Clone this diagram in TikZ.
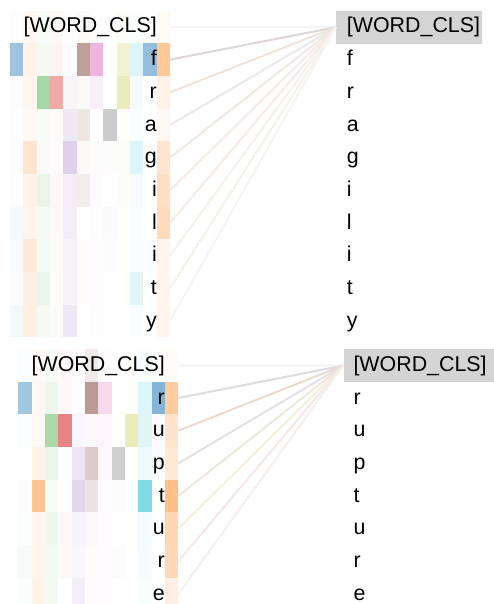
\documentclass[tikz,border=0pt]{standalone}
\usepackage{fontspec}
\setmainfont{Liberation Sans}
% head colours (tab10, cycled)
\definecolor{hd1}{HTML}{1F77B4}
\definecolor{hd2}{HTML}{FF7F0E}
\definecolor{hd3}{HTML}{2CA02C}
\definecolor{hd4}{HTML}{D62728}
\definecolor{hd5}{HTML}{9467BD}
\definecolor{hd6}{HTML}{8C564B}
\definecolor{hd7}{HTML}{E377C2}
\definecolor{hd8}{HTML}{7F7F7F}
\definecolor{hd9}{HTML}{BCBD22}
\definecolor{hd10}{HTML}{17BECF}
\definecolor{hd11}{HTML}{1F77B4}
\definecolor{hd12}{HTML}{FF7F0E}
\definecolor{clsgray}{HTML}{D4D4D4}
% link colours
\definecolor{lkA0}{HTML}{F8F4F4}
\definecolor{lkA1}{HTML}{DCD5DA}
\definecolor{lkA2}{HTML}{EFE4DB}
\definecolor{lkA3}{HTML}{EBE7EB}
\definecolor{lkA4}{HTML}{F2E8E2}
\definecolor{lkA5}{HTML}{F7EAE7}
\definecolor{lkA6}{HTML}{F8EAE6}
\definecolor{lkA7}{HTML}{F5F2EC}
\definecolor{lkA8}{HTML}{F4F2EA}
\definecolor{lkA9}{HTML}{F4F4F2}
\definecolor{lkB0}{HTML}{F6F3F3}
\definecolor{lkB1}{HTML}{DEDBDF}
\definecolor{lkB2}{HTML}{E9DCCF}
\definecolor{lkB3}{HTML}{E5E0E4}
\definecolor{lkB4}{HTML}{EDE7DC}
\definecolor{lkB5}{HTML}{F2EFDD}
\definecolor{lkB6}{HTML}{F6E7E6}
\definecolor{lkB7}{HTML}{F5F0EE}
\tikzset{
  cell/.style={draw=none, inner sep=0pt, outer sep=0pt, minimum width=13.33pt, minimum height=32.67pt, anchor=north west},
  tok/.style={inner sep=0pt, font=\fontsize{21.4}{25.7}\selectfont},
  clsbox/.style={tok, fill=clsgray, anchor=north west, text width=#1, align=left, minimum height=32.67pt},
  link/.style={line width=2pt}
}
\begin{document}
\begin{tikzpicture}[x=1pt, y=-1pt]
\useasboundingbox (0,0) rectangle (494,604);
% fragility
\foreach \r/\ws in {0/{.01,.05,.03,.04,.01,.03,.01,0,.03,.01,0,.04},
                    1/{.44,.1,.06,.05,.03,.57,.54,0,.2,.15,.48,.43},
                    2/{.02,.07,.42,.4,.07,.03,.12,0,.3,.04,0,.1},
                    3/{.01,.05,.03,.02,.15,.15,0,.4,.02,.03,0,.06},
                    4/{.02,.2,.04,.02,.3,.03,.03,.02,.03,.15,0,.2},
                    5/{.01,.1,.1,.03,.12,.1,.04,0,.03,.04,0,.25},
                    6/{.04,.08,.05,.03,.12,0,.02,.04,.02,.03,0,.28},
                    7/{.03,.17,.05,.02,.08,.02,.02,.02,.02,.03,.02,.08},
                    8/{.02,.12,.1,.02,.08,.02,.02,0,.02,.12,0,.08},
                    9/{.05,.12,.05,.02,.15,0,.02,0,0,.03,0,.08}}{
  \foreach \w [count=\c] in \ws {
    \node[cell, fill=hd\c, fill opacity=\w] (a\r-\c) at ({10+13.33*(\c-1)}, {10.67+32.67*\r}) {};
  }
}
\node[tok, anchor=base east] (ka0) at (157, 33) {[WORD\_CLS]};
\foreach \t [count=\r] in {f,r,a,g,i,l,i,t,y}{
  \node[tok, anchor=base east] (ka\r) at (157, {33+32.67*\r}) {\t};
  \node[tok, anchor=base west] (qa\r) at (346.7, {33+32.67*\r}) {\t};
}
\node[clsbox=146pt] (clsA) at (336, 10.67) {\hspace*{10.7pt}[WORD\_CLS]};
\foreach \r in {0,...,9}{
  \draw[link, lkA\r] (a\r-12.east) -- (clsA.west);
}
% rupture
\foreach \r/\ws in {0/{.01,.04,.04,.03,.01,.12,.02,0,.01,.02,0,.03},
                    1/{.42,.06,.08,.03,.02,.6,.29,0,.02,.15,.55,.4},
                    2/{.01,.05,.4,.57,.05,.04,.06,0,.3,.14,.02,.22},
                    3/{0,.1,.1,.01,.17,.3,.05,.37,.02,.08,.02,.18},
                    4/{.02,.45,.03,0,.27,.17,.02,.02,0,.55,0,.5},
                    5/{.01,.08,.08,.04,.08,.04,.02,0,.02,.05,0,.32},
                    6/{.04,.08,.06,.03,.05,.02,.02,.02,0,.04,0,.3},
                    7/{.02,.1,.06,0,.12,.02,.02,0,0,.03,0,.12}}{
  \foreach \w [count=\c] in \ws {
    \node[cell, fill=hd\c, fill opacity=\w] (b\r-\c) at ({18.33+13.33*(\c-1)}, {349+32.67*\r}) {};
  }
}
\node[tok, anchor=base east] (kb0) at (165, 371.5) {[WORD\_CLS]};
\foreach \t [count=\r] in {r,u,p,t,u,r,e}{
  \node[tok, anchor=base east] (kb\r) at (165, {371.5+32.67*\r}) {\t};
  \node[tok, anchor=base west] (qb\r) at (353.3, {371.5+32.67*\r}) {\t};
}
\node[clsbox=150pt] (clsB) at (343.3, 349) {\hspace*{10pt}[WORD\_CLS]};
\foreach \r in {0,...,7}{
  \draw[link, lkB\r] (b\r-12.east) -- (clsB.west);
}
\end{tikzpicture}
\end{document}
